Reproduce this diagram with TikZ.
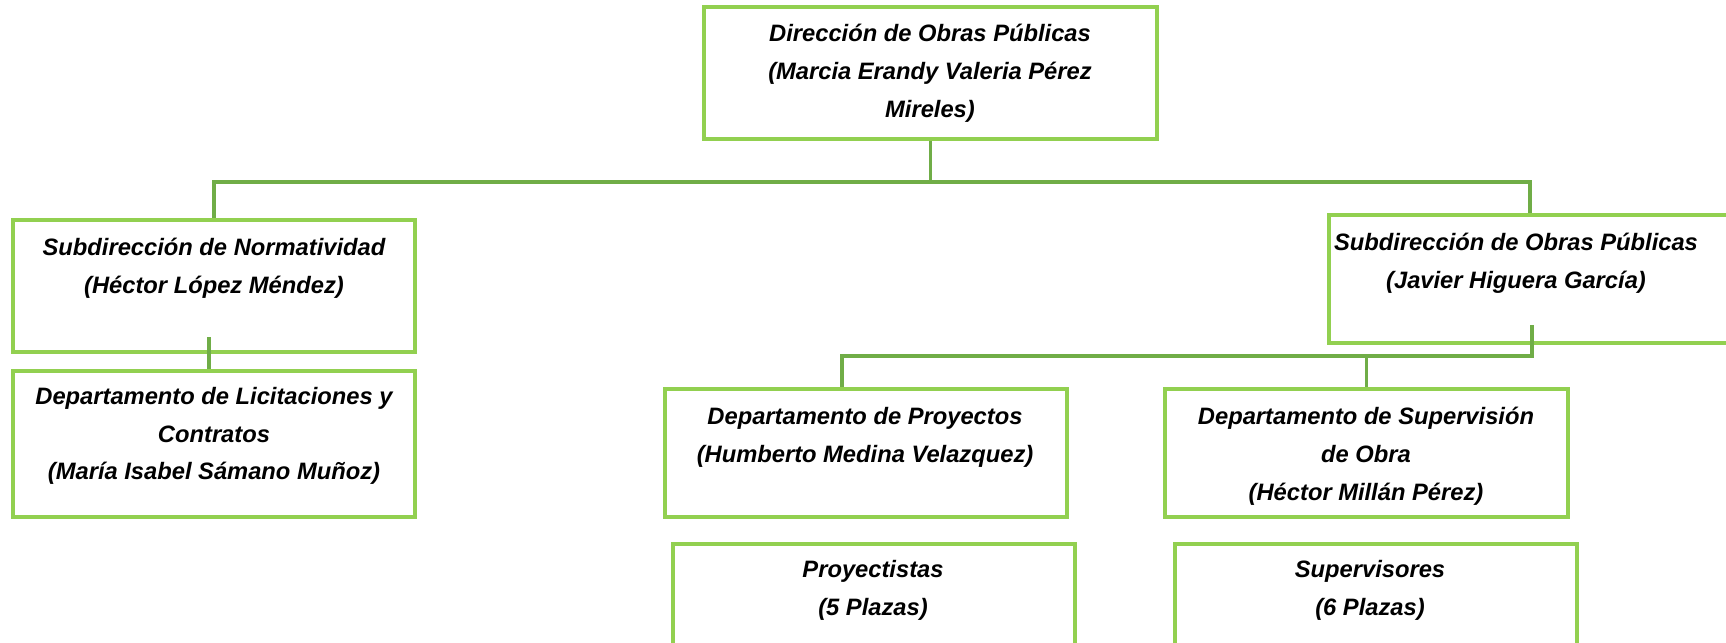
\documentclass[tikz,border=0pt]{standalone}
\usepackage{fontspec}
\setmainfont{Liberation Sans}
\usetikzlibrary{positioning,calc}

\definecolor{verdecaja}{HTML}{92D050}
\definecolor{verdelinea}{HTML}{70AD47}

\tikzset{
  caja/.style={draw=verdecaja, line width=2pt, rectangle, inner sep=0pt, minimum width=8.04cm},
  texto/.style={align=center, font=\fontsize{13.5}{21.5}\selectfont\bfseries\itshape},
  linea/.style={draw=verdelinea, line width=1.8pt},
}

\begin{document}
\begin{tikzpicture}[x=0.02cm, y=-0.02cm]
		\useasboundingbox (0,0) rectangle (1726,642);
		\clip (0,0) rectangle (1726,642);

		% cajas
		\node[caja, minimum width=9.06cm, minimum height=2.64cm] (dir) at (930.5,73) {};
		\node[caja, minimum height=2.64cm] (sn) at (214,286) {};
		\node[caja, minimum height=2.92cm] (dl) at (214,444) {};
		\node[caja, minimum width=8.22cm, minimum height=2.56cm] (sop) at (1534.5,279) {};
		\node[caja, minimum height=2.56cm] (dproy) at (866,453) {};
		\node[caja, minimum width=8.06cm, minimum height=2.56cm] (dsup) at (1366.5,453) {};
		\node[caja, minimum height=3.12cm] (proy) at (874,622) {};
		\node[caja, minimum height=3.12cm] (sup) at (1376,622) {};

		% textos
		\node[texto] (tdir) at (930,73) {Dirección de Obras Públicas\\(Marcia Erandy Valeria Pérez\\Mireles)};
		\node[texto] (tsn) at (214,268) {Subdirección de Normatividad\\(Héctor López Méndez)};
		\node[texto] (tdl) at (214,436) {Departamento de Licitaciones y\\Contratos\\(María Isabel Sámano Muñoz)};
		\node[texto] (tsop) at (1516,263) {Subdirección de Obras Públicas\\(Javier Higuera García)};
		\node[texto] (tdproy) at (865,437) {Departamento de Proyectos\\(Humberto Medina Velazquez)};
		\node[texto] (tdsup) at (1366,456) {Departamento de Supervisión\\de Obra\\(Héctor Millán Pérez)};
		\node[texto] (tproy) at (873,590) {Proyectistas\\(5 Plazas)};
		\node[texto] (tsup) at (1370,590) {Supervisores\\(6 Plazas)};

		% lineas
		\coordinate (bus) at (930.5,182);
		\coordinate (busR) at (1530,182);
		\coordinate (sn1) at (209,337);
		\coordinate (op1) at (1532,325);
		\coordinate (op2) at (1532,356);
		\coordinate (pr2) at (842,356);

		\draw[linea] (dir.south) -- (bus);
		\draw[linea] (sn.north) -- (sn.north |- bus) -- (busR) -- (busR |- sop.north);
		\draw[linea] (sn1) -- (sn1 |- dl.north);
		\draw[linea] (op1) -- (op2) -- (pr2) -- (pr2 |- dproy.north);
		\draw[linea] (dsup.north |- op2) -- (dsup.north);
	\end{tikzpicture}
\end{document}
